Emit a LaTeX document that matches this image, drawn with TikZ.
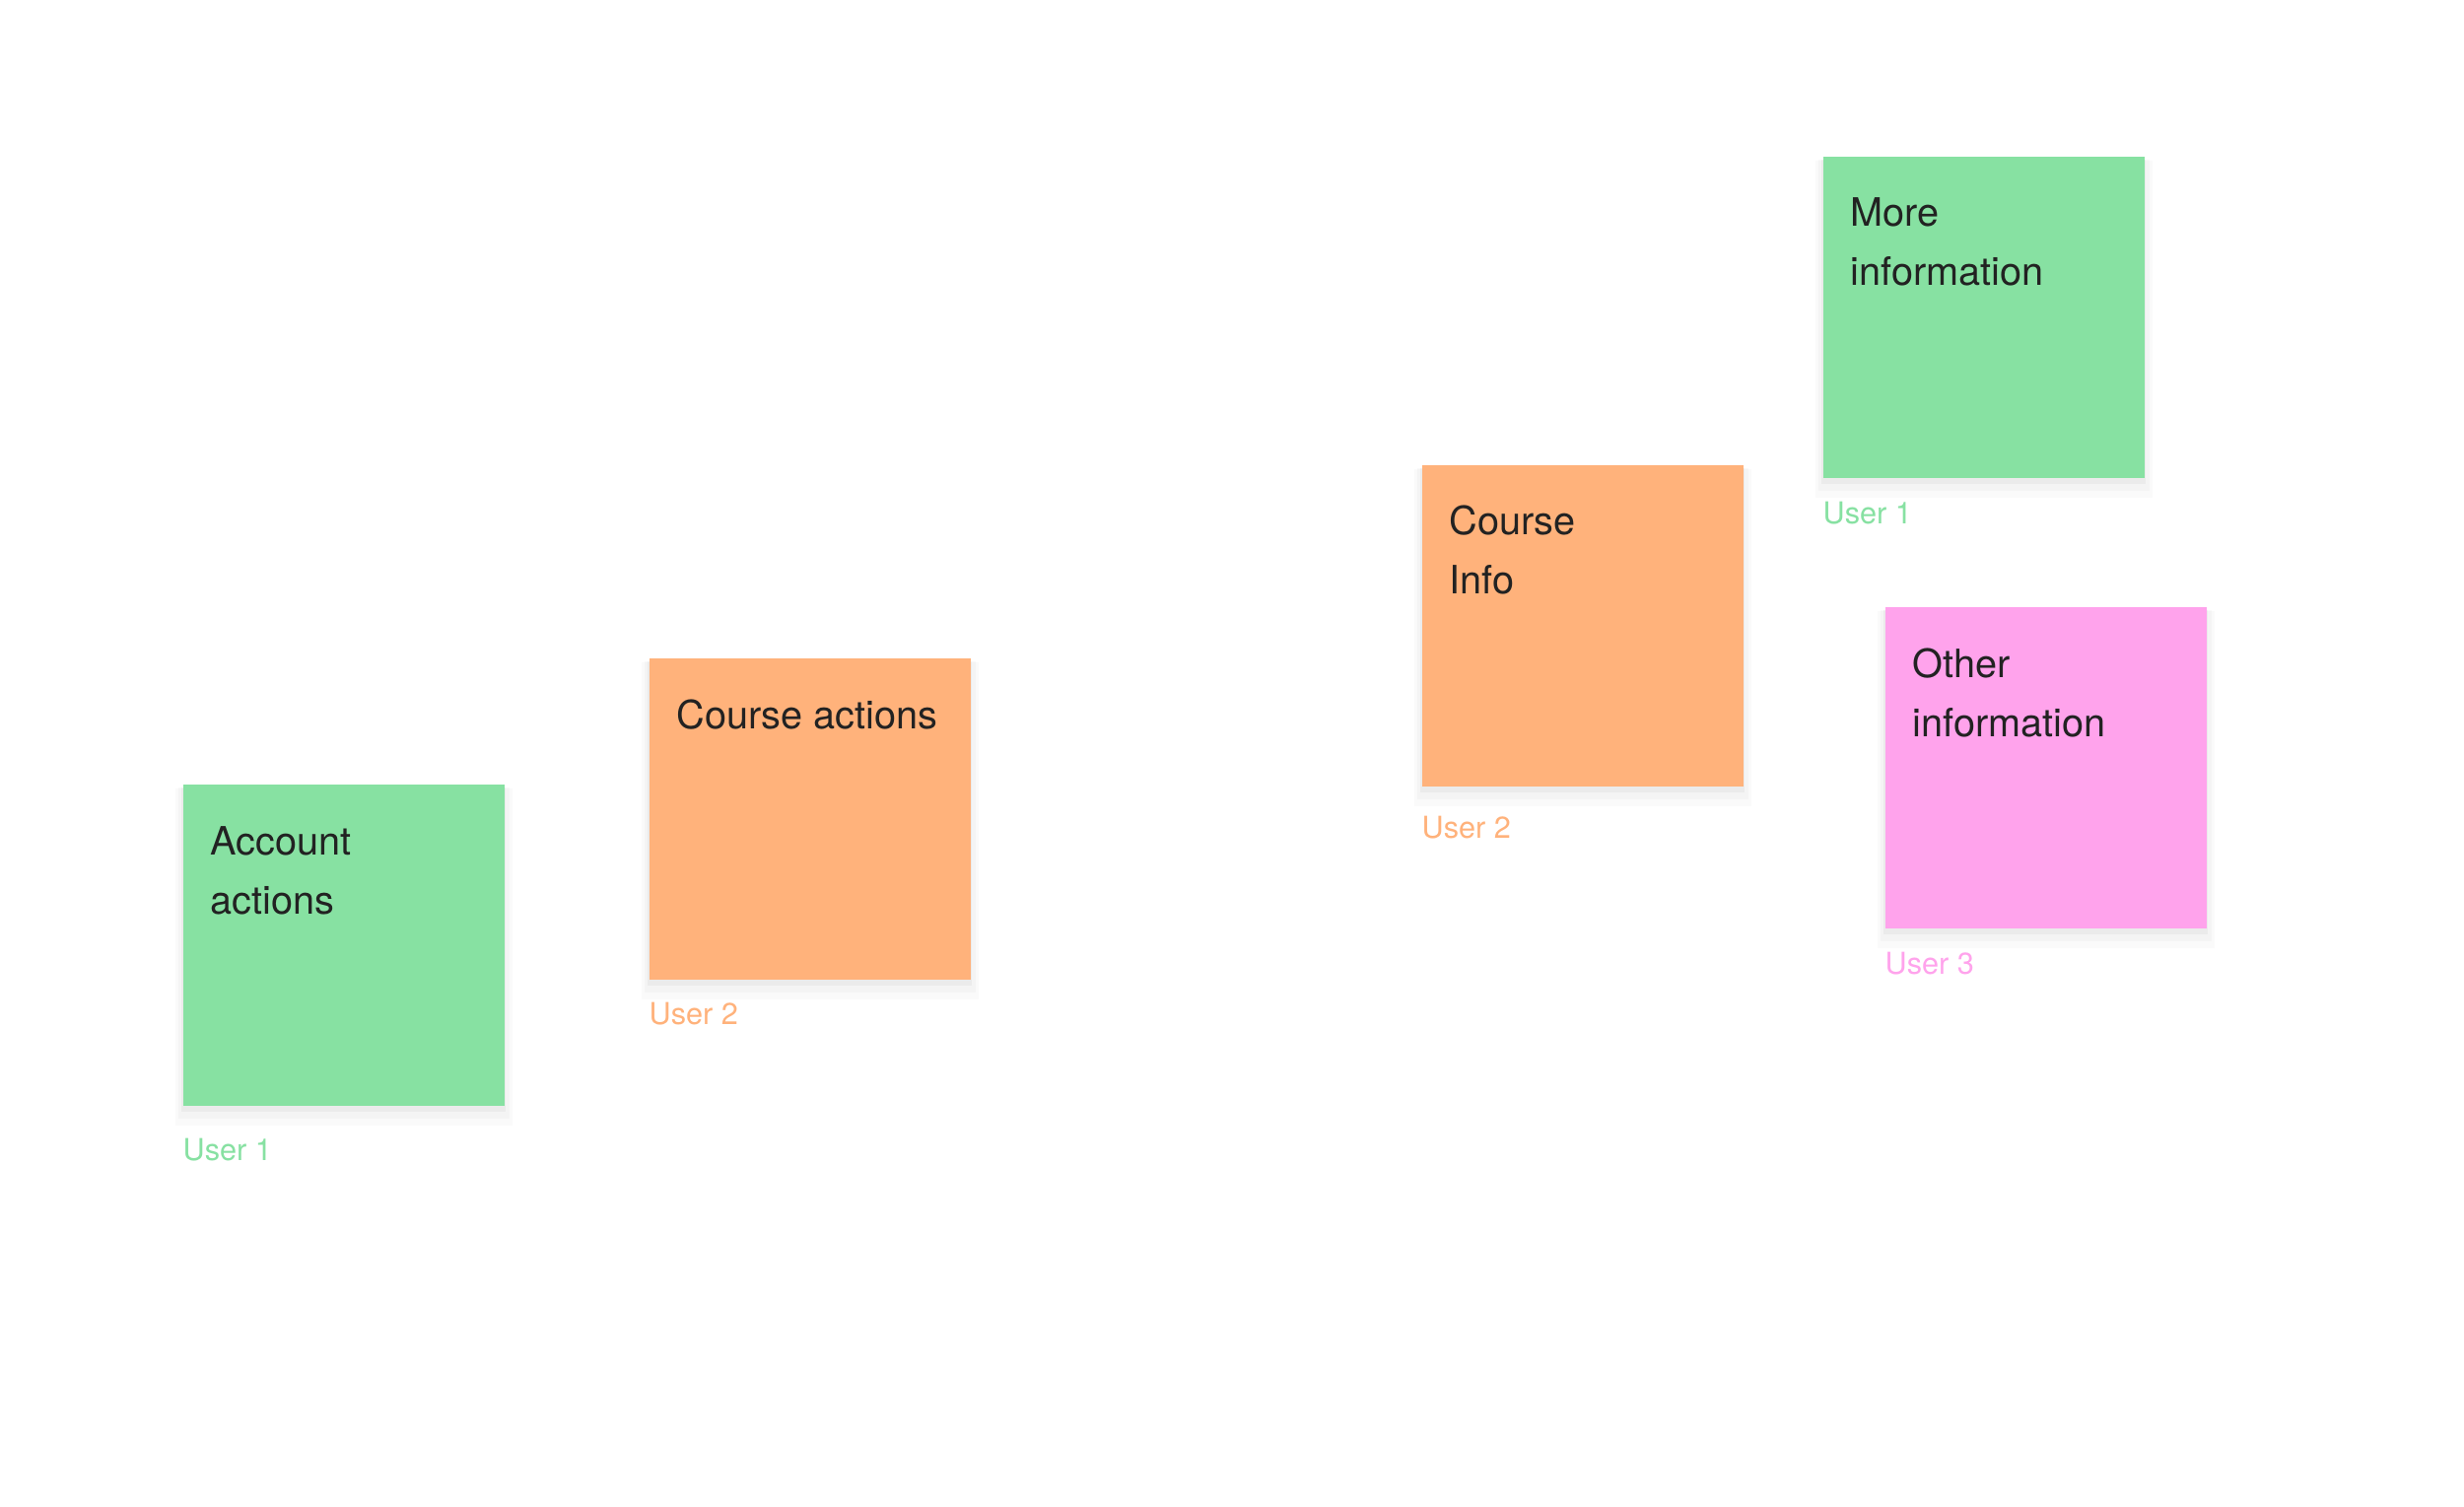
\documentclass[tikz,border=0pt]{standalone}
\usepackage{fontspec}
\setmainfont{TeX Gyre Heros}
\usetikzlibrary{shadows}

\definecolor{stickygreen}{HTML}{87E1A2}
\definecolor{stickyorange}{HTML}{FFB27B}
\definecolor{stickypink}{HTML}{FFA3EC}
\definecolor{stickyink}{HTML}{222222}

% lines of a sticky, aligned on the first baseline
\newcommand{\stickylines}[1]{\begin{tabular}[t]{@{}l@{}}#1\end{tabular}}

\begin{document}
\begin{tikzpicture}[x=0.3pt, y=-0.3pt,
  sticky/.style={fill=#1, draw=none, minimum size=97.8pt, inner sep=0pt,
    anchor=north west,
    general shadow={shadow yshift=-3.5pt, shadow scale=1.05, fill=black, opacity=0.018},
    general shadow={shadow yshift=-2.5pt, shadow scale=1.03, fill=black, opacity=0.025},
    general shadow={shadow yshift=-1.5pt, shadow scale=1.01, fill=black, opacity=0.035}},
  stickytext/.style={anchor=base west, inner sep=0pt,
    text=stickyink, font=\fontsize{11.9}{18}\selectfont},
  userlabel/.style={anchor=base west, inner sep=0pt, text=#1,
    font=\fontsize{9.2}{11}\selectfont}]

  %% ---- Canvas ----
  \useasboundingbox (0,0) rectangle (2500,1529);
  \fill[white] (0,0) rectangle (2500,1529);

  %% ---- Account actions ----
  \node[sticky=stickygreen] (acct) at (185,795) {};
  \node[stickytext] (acct text) at ([xshift=8.4pt, yshift=-21.6pt]acct.north west)
    {\stickylines{Account\\actions}};
  \node[userlabel=stickygreen] (acct user) at ([yshift=-16.5pt]acct.south west)
    {User 1};

  %% ---- Course actions ----
  \node[sticky=stickyorange] (crsact) at (658,667) {};
  \node[stickytext] (crsact text) at ([xshift=8.4pt, yshift=-21.6pt]crsact.north west)
    {\stickylines{Course actions}};
  \node[userlabel=stickyorange] (crsact user) at ([yshift=-13.5pt]crsact.south west)
    {User 2};

  %% ---- Course Info ----
  \node[sticky=stickyorange] (crsinfo) at (1442,471) {};
  \node[stickytext] (crsinfo text) at ([xshift=8.4pt, yshift=-21.6pt]crsinfo.north west)
    {\stickylines{Course\\Info}};
  \node[userlabel=stickyorange] (crsinfo user) at ([yshift=-15.6pt]crsinfo.south west)
    {User 2};

  %% ---- More information ----
  \node[sticky=stickygreen] (moreinfo) at (1849,158) {};
  \node[stickytext] (moreinfo text) at ([xshift=8.4pt, yshift=-21.6pt]moreinfo.north west)
    {\stickylines{More\\information}};
  \node[userlabel=stickygreen] (moreinfo user) at ([yshift=-13.8pt]moreinfo.south west)
    {User 1};

  %% ---- Other information ----
  \node[sticky=stickypink] (otherinfo) at (1912,615) {};
  \node[stickytext] (otherinfo text) at ([xshift=8.4pt, yshift=-21.6pt]otherinfo.north west)
    {\stickylines{Other\\information}};
  \node[userlabel=stickypink] (otherinfo user) at ([yshift=-13.8pt]otherinfo.south west)
    {User 3};

\end{tikzpicture}
\end{document}
